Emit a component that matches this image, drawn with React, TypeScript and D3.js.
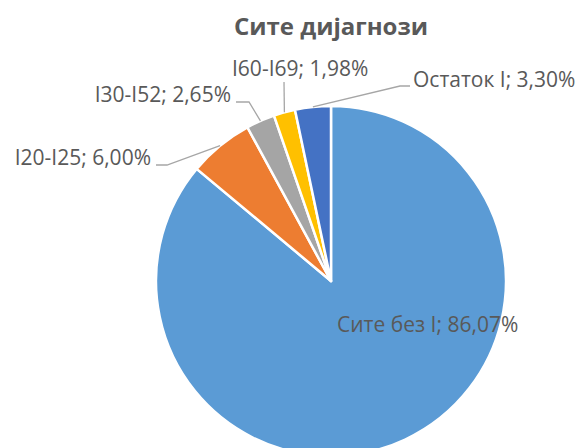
import * as d3 from "d3";

const categories = ["Сите без I", "I20-I25", "I30-I52", "I60-I69", "Остаток I"];
const values = [86.07, 6.0, 2.65, 1.98, 3.3];
const labels = ["Сите без I; 86,07%", "I20-I25; 6,00%", "I30-I52; 2,65%", "I60-I69; 1,98%", "Остаток I; 3,30%"];
const colors = ["#5B9BD5", "#ED7D31", "#A5A5A5", "#FFC000", "#4472C4"];

// label placement (text anchor point + leader elbow), per slice
const labelLayout = [
  { x: 337, y: 332, anchor: "start", leader: null },
  { x: 151, y: 165, anchor: "end", leader: [[156, 165], [167, 165]] },
  { x: 231, y: 102, anchor: "end", leader: [[236, 102], [249, 102]] },
  { x: 232, y: 76, anchor: "start", leader: [[284, 82]] },
  { x: 413, y: 87, anchor: "start", leader: [[410, 86], [400, 86]] },
];

const W = 577;
const H = 448;
const cx = 331;
const cy = 281;
const radius = 175;

export default function App() {
  const pie = d3
    .pie<number>()
    .sort(null)
    .value((d) => d);
  const arcs = pie(values);
  const arc = d3.arc<d3.PieArcDatum<number>>().innerRadius(0).outerRadius(radius);

  const edgePoint = (a: d3.PieArcDatum<number>) => {
    const m = (a.startAngle + a.endAngle) / 2;
    return [cx + radius * Math.sin(m), cy - radius * Math.cos(m)];
  };

  return (
    <svg width={W} height={H} style={{ position: "absolute", left: 0, top: 0 }}>
      <rect width={W} height={H} fill="#fff" />
      <text
        x={331}
        y={35}
        textAnchor="middle"
        fontFamily="Open Sans"
        fontWeight="bold"
        fontSize={24}
        fill="#595959"
      >
        Сите дијагнози
      </text>
      <g transform={`translate(${cx},${cy})`}>
        {arcs.map((a, i) => (
          <path key={categories[i]} d={arc(a) || ""} fill={colors[i]} stroke="#fff" strokeWidth={2.5} strokeLinejoin="round" />
        ))}
      </g>
      {arcs.map((a, i) => {
        const lay = labelLayout[i];
        if (!lay.leader) return null;
        const pts = [...lay.leader, edgePoint(a)] as [number, number][];
        return (
          <path
            key={"l" + i}
            d={d3.line()(pts) || ""}
            fill="none"
            stroke="#A6A6A6"
            strokeWidth={1.3}
          />
        );
      })}
      {labels.map((t, i) => (
        <text
          key={"t" + i}
          x={labelLayout[i].x}
          y={labelLayout[i].y}
          textAnchor={labelLayout[i].anchor}
          fontFamily="Open Sans"
          fontSize={21}
          fill="#595959"
        >
          {t}
        </text>
      ))}
    </svg>
  );
}
